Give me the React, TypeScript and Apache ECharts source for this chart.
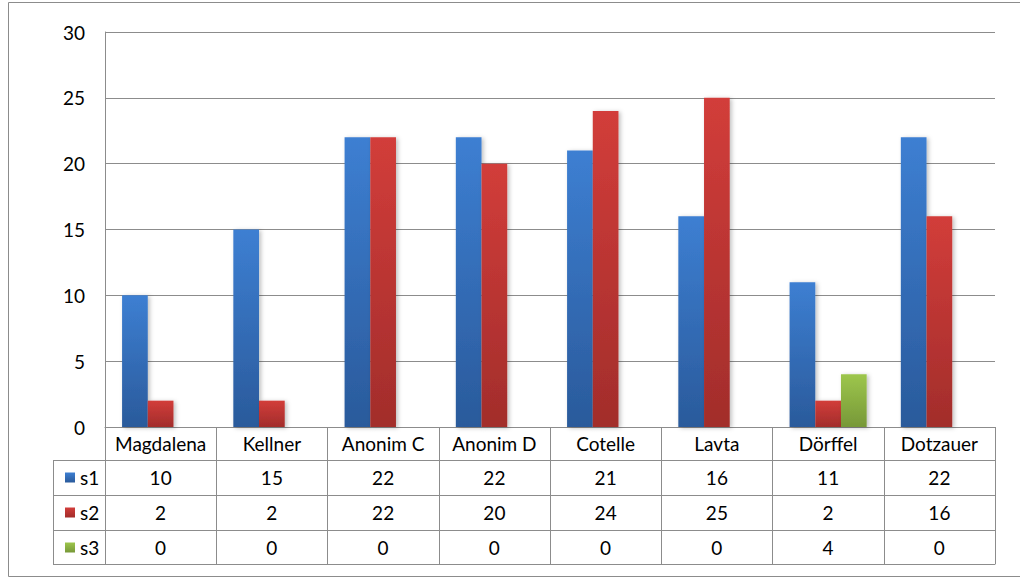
import React, { useEffect, useRef } from "react";
import * as echarts from "echarts";

const categories = ["Magdalena", "Kellner", "Anonim C", "Anonim D", "Cotelle", "Lavta", "Dörffel", "Dotzauer"];
const s1 = [10, 15, 22, 22, 21, 16, 11, 22];
const s2 = [2, 2, 22, 20, 24, 25, 2, 16];
const s3 = [0, 0, 0, 0, 0, 0, 4, 0];
const seriesNames = ["s1", "s2", "s3"];
const seriesValues = [s1, s2, s3];
const yMin = 0;
const yMax = 30;
const yInterval = 5;

const W = 1020;
const H = 581;
const GRID_LEFT = 105;
const GRID_RIGHT = 25;
const GRID_TOP = 32;
const GRID_BOTTOM = 154;
const ROW_OFFSETS = [0, 33, 68, 103, 137];
const TABLE_LEFT = 53;
const LINE = "#8c8c8c";
const FONT = "Lato, 'Open Sans', sans-serif";
const FS = 19;

const gradients = [
  ["#3d7fd2", "#2a5a9b"],
  ["#d23d3a", "#a22d2b"],
  ["#9dc64c", "#779838"],
];

function grad(c: string[]) {
  return new echarts.graphic.LinearGradient(0, 0, 0, 1, [
    { offset: 0, color: c[0] },
    { offset: 1, color: c[1] },
  ]);
}

export default function App() {
  const ref = useRef<HTMLDivElement>(null);
  useEffect(() => {
    if (!ref.current) return;
    const chart = echarts.init(ref.current, null, { renderer: "svg" });
    const baseY = H - GRID_BOTTOM;

    const rowLabels: ((i: number) => string)[] = [
      (i) => categories[i],
      (i) => String(s1[i]),
      (i) => String(s2[i]),
      (i) => String(s3[i]),
    ];

    const xAxes: any[] = rowLabels.map((fn, r) => {
      const h = ROW_OFFSETS[r + 1] - ROW_OFFSETS[r];
      return {
        type: "category",
        data: categories,
        position: "bottom",
        offset: ROW_OFFSETS[r],
        axisLine: { show: true, lineStyle: { color: LINE, width: 1 } },
        axisTick: { show: true, length: h, interval: 0, lineStyle: { color: LINE, width: 1 } },
        axisLabel: {
          show: true,
          interval: 0,
          margin: h / 2,
          verticalAlign: "middle",
          color: "#000",
          fontSize: FS,
          fontFamily: FONT,
          formatter: (_v: string, idx: number) => fn(idx),
        },
        splitLine: { show: false },
      };
    });
    xAxes.push({
      type: "category",
      data: categories,
      position: "bottom",
      offset: ROW_OFFSETS[4],
      axisLine: { show: true, lineStyle: { color: LINE, width: 1 } },
      axisTick: { show: false },
      axisLabel: { show: false },
    });

    const leftLines: any[] = [];
    for (let r = 1; r < ROW_OFFSETS.length; r++) {
      const y = baseY + ROW_OFFSETS[r] + 0.5;
      leftLines.push({
        type: "line",
        shape: { x1: TABLE_LEFT, y1: y, x2: GRID_LEFT, y2: y },
        style: { stroke: LINE, lineWidth: 1 },
      });
    }
    leftLines.push({
      type: "line",
      shape: { x1: TABLE_LEFT + 0.5, y1: baseY + ROW_OFFSETS[1], x2: TABLE_LEFT + 0.5, y2: baseY + ROW_OFFSETS[4] + 1 },
      style: { stroke: LINE, lineWidth: 1 },
    });

    chart.setOption({
      animation: false,
      backgroundColor: "#fff",
      grid: { left: GRID_LEFT, right: GRID_RIGHT, top: GRID_TOP, bottom: GRID_BOTTOM, containLabel: false },
      legend: {
        data: seriesNames,
        orient: "vertical",
        left: 60,
        top: baseY + (ROW_OFFSETS[1] + ROW_OFFSETS[2]) / 2 - 15,
        itemWidth: 10,
        itemHeight: 10,
        itemGap: 15,
        icon: "rect",
        selectedMode: false,
        textStyle: { color: "#000", fontSize: FS, fontFamily: FONT, lineHeight: 20 },
      },
      xAxis: xAxes,
      yAxis: {
        type: "value",
        min: yMin,
        max: yMax,
        interval: yInterval,
        axisLine: { show: true, lineStyle: { color: LINE, width: 1 } },
        axisTick: { show: false },
        axisLabel: { margin: 20, color: "#000", fontSize: FS, fontFamily: FONT },
        splitLine: { show: true, lineStyle: { color: LINE, width: 1 } },
      },
      series: seriesNames.map((name, k) => ({
        name,
        type: "bar",
        xAxisIndex: 0,
        data: seriesValues[k],
        barWidth: 25.7,
        barGap: "0%",
        itemStyle: {
          color: grad(gradients[k]),
          shadowBlur: 4,
          shadowOffsetX: 2,
          shadowOffsetY: 1,
          shadowColor: "rgba(0,0,0,0.25)",
        },
      })),
      graphic: [
        {
          type: "rect",
          shape: { x: 8.5, y: 2.5, width: W, height: 574 },
          style: { fill: "none", stroke: LINE, lineWidth: 1 },
          silent: true,
        },
        ...leftLines,
      ],
    });
    return () => chart.dispose();
  }, []);
  return <div ref={ref} style={{ position: "absolute", left: 0, top: 0, width: W, height: H }} />;
}
